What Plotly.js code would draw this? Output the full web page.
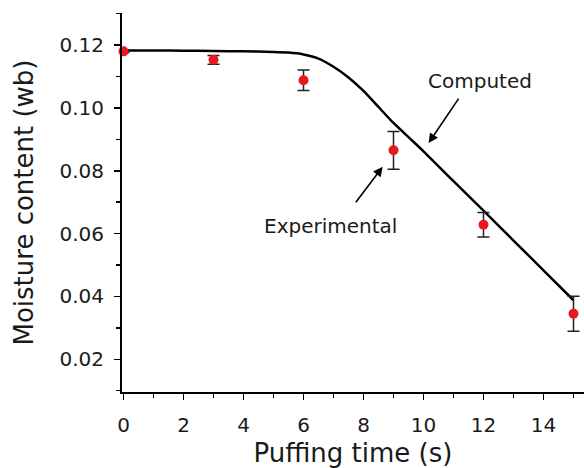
<!DOCTYPE html>
<html>
<head>
<meta charset="utf-8">
<script src="https://cdn.plot.ly/plotly-3.0.1.min.js"></script>
<style>html,body{margin:0;padding:0;background:#fff;}#chart{width:584px;height:468px;}</style>
</head>
<body>
<div id="chart"></div>
<script>
// Experimental data
const expTime = [0, 3, 6, 9, 12, 15];
const expMoisture = [0.1180, 0.1153, 0.1088, 0.0865, 0.0628, 0.0345];
const expError = [0.0004, 0.0014, 0.0033, 0.0060, 0.0039, 0.0056];

// Computed curve
const compTime = [0, 1, 2, 3, 4, 5, 5.5, 6, 6.5, 7, 7.5, 8, 8.5, 9, 9.5, 10, 11, 12, 13, 14, 15];
const compMoisture = [0.1183, 0.1183, 0.1182, 0.1181, 0.1180, 0.1178, 0.1176, 0.1170, 0.1157, 0.1131, 0.1097, 0.1054, 0.1003, 0.0952, 0.0907, 0.0862, 0.0767, 0.0673, 0.0578, 0.0483, 0.0388];

const xTickVals = [0, 2, 4, 6, 8, 10, 12, 14];
const yTickVals = [0.02, 0.04, 0.06, 0.08, 0.10, 0.12];
const yTickText = ['0.02', '0.04', '0.06', '0.08', '0.10', '0.12'];

const FONT = 'DejaVu Sans, sans-serif';
const TXT = '#1a1a1a';

const traces = [
  {
    x: compTime, y: compMoisture, type: 'scatter', mode: 'lines',
    line: {color: '#000000', width: 2.5, shape: 'spline', smoothing: 0.6}, hoverinfo: 'skip', showlegend: false
  },
  {
    x: expTime, y: expMoisture, type: 'scatter', mode: 'markers',
    marker: {color: '#e8191e', size: 10},
    error_y: {type: 'data', array: expError, visible: true, color: '#222222', thickness: 1.5, width: 6},
    cliponaxis: false, showlegend: false
  }
];

const layout = {
  width: 584, height: 468,
  margin: {l: 122, r: 0, t: 13, b: 76},
  paper_bgcolor: '#ffffff', plot_bgcolor: '#ffffff',
  font: {family: FONT, color: TXT},
  showlegend: false,
  xaxis: {
    range: [-0.05, 15.35],
    tickvals: xTickVals,
    ticks: 'outside', ticklen: 6, tickwidth: 1.5, tickcolor: '#000',
    ticklabelstandoff: 8,
    showline: true, linecolor: '#000', linewidth: 2,
    showgrid: false, zeroline: false,
    tickfont: {family: FONT, size: 20, color: TXT},
    minor: {dtick: 1, tick0: 0, ticks: 'outside', ticklen: 4, tickwidth: 1.5, tickcolor: '#000', showgrid: false},
    title: {text: 'Puffing time (s)', font: {family: FONT, size: 26, color: TXT}, standoff: 12}
  },
  yaxis: {
    range: [0.0096, 0.1302],
    tickvals: yTickVals, ticktext: yTickText,
    ticks: 'outside', ticklen: 6, tickwidth: 1.5, tickcolor: '#000',
    ticklabelstandoff: 6,
    showline: true, linecolor: '#000', linewidth: 2,
    showgrid: false, zeroline: false,
    tickfont: {family: FONT, size: 20, color: TXT},
    minor: {dtick: 0.01, tick0: 0, ticks: 'outside', ticklen: 4, tickwidth: 1.5, tickcolor: '#000', showgrid: false},
    title: {text: 'Moisture content (wb)', font: {family: FONT, size: 26, color: TXT}, standoff: 18}
  },
  annotations: [
    {x: 11.87, y: 0.1085, xref: 'x', yref: 'y', text: 'Computed', showarrow: false,
     font: {family: FONT, size: 20, color: TXT}, xanchor: 'center', yanchor: 'middle'},
    {x: 10.17, y: 0.0888, xref: 'x', yref: 'y', text: '', showarrow: true,
     ax: 31, ay: -46, arrowhead: 2, arrowsize: 1.2, arrowwidth: 1.6, arrowcolor: '#000'},
    {x: 6.89, y: 0.0624, xref: 'x', yref: 'y', text: 'Experimental', showarrow: false,
     font: {family: FONT, size: 20, color: TXT}, xanchor: 'center', yanchor: 'middle'},
    {x: 8.64, y: 0.0813, xref: 'x', yref: 'y', text: '', showarrow: true,
     ax: -28, ay: 37, arrowhead: 2, arrowsize: 1.2, arrowwidth: 1.6, arrowcolor: '#000'}
  ]
};

Plotly.newPlot('chart', traces, layout, {displayModeBar: false, staticPlot: true});
</script>
</body>
</html>
